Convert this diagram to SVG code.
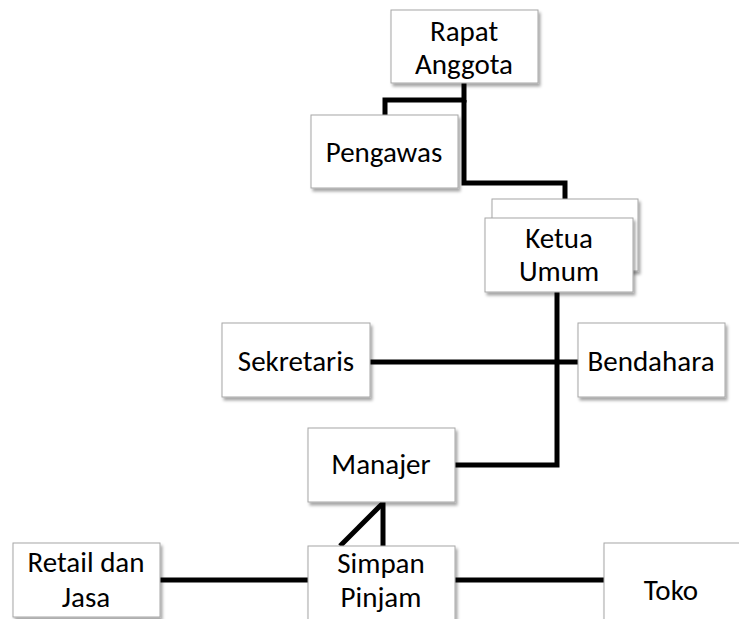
<svg xmlns="http://www.w3.org/2000/svg" width="739" height="619" viewBox="0 0 739 619">
<defs>
<filter id="sh" x="-10%" y="-10%" width="130%" height="130%">
<feDropShadow dx="2" dy="3" stdDeviation="1.5" flood-color="#000" flood-opacity="0.35"/>
</filter>
<style>
.box{fill:#fff;stroke:#a6a6a6;stroke-width:1;filter:url(#sh)}
.t{font-family:Carlito,Lato,"Liberation Sans",Arial,sans-serif;font-size:29px;fill:#000;text-anchor:middle}
.c{fill:none;stroke:#000;stroke-width:5;stroke-linejoin:miter}
</style>
</defs>
<rect width="739" height="619" fill="#fff"/>
<g id="connectors">
<polyline class="c" points="464,83 464,100 385,100 385,116"/>
<polyline class="c" points="464,100 464,183 565,183 565,200"/>
<polyline class="c" points="557,292 557,465 455,465"/>
<line class="c" x1="370" y1="362" x2="578" y2="362"/>
<line class="c" x1="383" y1="502" x2="383" y2="546"/>
<line class="c" x1="340" y1="546" x2="383" y2="503"/>
<line class="c" x1="160" y1="580" x2="309" y2="580"/>
<line class="c" x1="455" y1="580" x2="604" y2="580"/>
</g>
<g id="rapat"><rect class="box" x="391" y="10" width="147" height="73"/><text class="t" x="464" y="41">Rapat</text><text class="t" x="464" y="74">Anggota</text></g>
<g id="pengawas"><rect class="box" x="311" y="115" width="147" height="73"/><text class="t" x="384" y="162">Pengawas</text></g>
<g id="ketua"><rect class="box" x="492" y="199" width="146" height="72"/><rect class="box" x="485" y="218" width="148" height="74"/><text class="t" x="559" y="248">Ketua</text><text class="t" x="559" y="281">Umum</text></g>
<g id="sekretaris"><rect class="box" x="222" y="323" width="148" height="74"/><text class="t" x="296" y="371">Sekretaris</text></g>
<g id="bendahara"><rect class="box" x="578" y="323" width="147" height="74"/><text class="t" x="651" y="371">Bendahara</text></g>
<g id="manajer"><rect class="box" x="308" y="428" width="147" height="74"/><text class="t" x="381" y="474">Manajer</text></g>
<g id="retail"><rect class="box" x="13" y="543" width="147" height="74"/><text class="t" x="86" y="572">Retail dan</text><text class="t" x="86" y="607">Jasa</text></g>
<g id="simpan"><rect class="box" x="308" y="546" width="147" height="85"/><text class="t" x="381" y="573">Simpan</text><text class="t" x="381" y="607">Pinjam</text></g>
<g id="toko"><rect class="box" x="604" y="543" width="148" height="85"/><text class="t" x="671" y="600">Toko</text></g>
</svg>
